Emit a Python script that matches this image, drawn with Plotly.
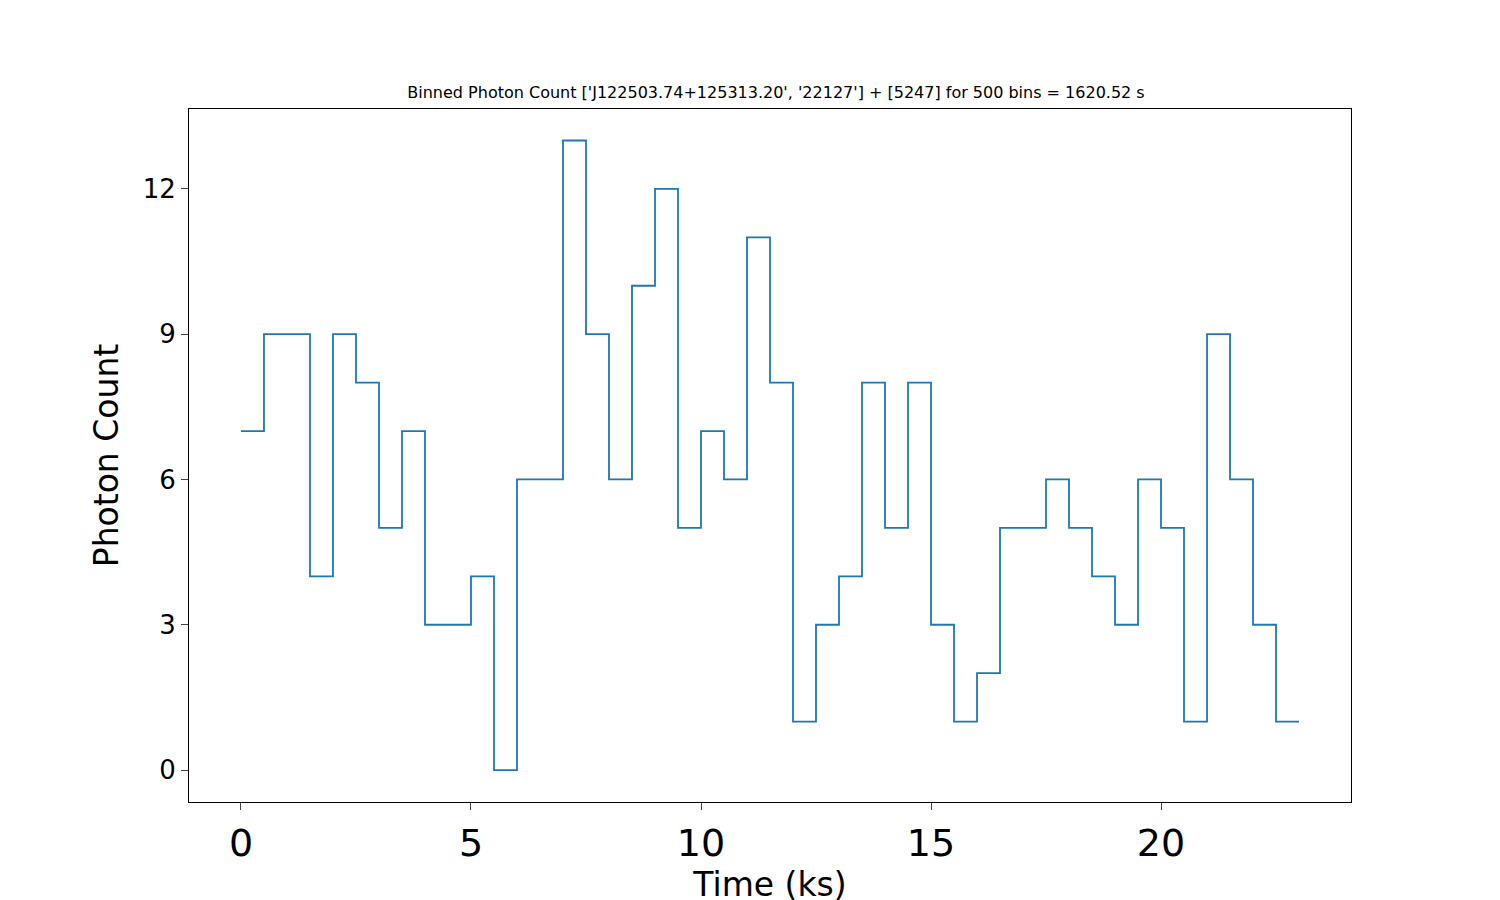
import plotly.graph_objects as go

time_ks = [i * 0.5 for i in range(47)]
counts = [7, 9, 9, 4, 9, 8, 5, 7, 3, 3, 4, 0, 6, 6, 13, 9, 6, 10, 12, 5, 7, 6, 11, 8,
          1, 3, 4, 8, 5, 8, 3, 1, 2, 5, 5, 6, 5, 4, 3, 6, 5, 1, 9, 6, 3, 1, 1]

fig = go.Figure(go.Scatter(x=time_ks, y=counts, mode="lines", line_shape="hv",
                           line=dict(color="#1f77b4", width=1.8)))
fig.update_layout(
    width=1500, height=900, plot_bgcolor="white", paper_bgcolor="white",
    margin=dict(l=181, r=157, t=101, b=106), showlegend=False,
    font=dict(family="DejaVu Sans", color="black"),
    title=dict(text="Binned Photon Count ['J122503.74+125313.20', '22127'] + [5247] for 500 bins = 1620.52 s",
               x=0.512, xanchor="center", y=0.9, yanchor="bottom", font=dict(size=16)),
)
fig.update_xaxes(range=[-1.13, 24.13], tickvals=[0, 5, 10, 15, 20], tickfont=dict(size=38),
                 title=dict(text="Time (ks)", font=dict(size=33), standoff=2),
                 showline=True, linecolor="black", mirror=True, ticks="outside", ticklen=7,
                 showgrid=False, zeroline=False)
fig.update_yaxes(range=[-0.66, 13.65], tickvals=[0, 3, 6, 9, 12], tickfont=dict(size=26),
                 title=dict(text="Photon Count", font=dict(size=33), standoff=14),
                 showline=True, linecolor="black", mirror=True, ticks="outside", ticklen=7,
                 showgrid=False, zeroline=False)
fig.write_html("out.html")
